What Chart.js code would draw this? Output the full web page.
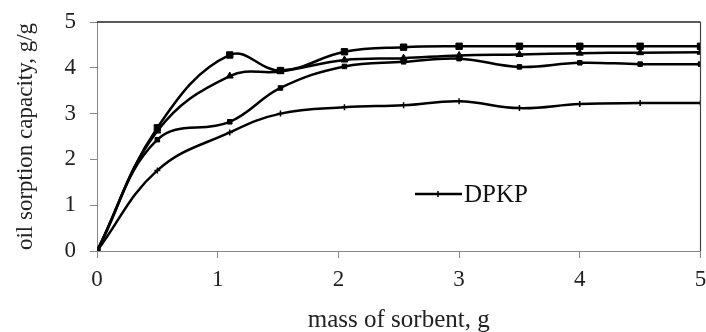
<!DOCTYPE html>
<html>
<head>
<meta charset="utf-8">
<script src="https://cdn.jsdelivr.net/npm/chart.js@4/dist/chart.umd.min.js"></script>
<style>
	html, body { margin: 0; padding: 0; background: #fff; }
	#wrap { width: 706px; height: 332px; }
</style>
</head>
<body>
<div id="wrap"><canvas id="myChart" width="706" height="332"></canvas></div>
<script>
// mass of sorbent, g
const massValues = [0, 0.5, 1.1, 1.52, 2.05, 2.54, 3, 3.5, 4, 4.5, 5];
// oil sorption capacity, g/g
const seriesTop = [0, 2.69, 4.28, 3.94, 4.35, 4.45, 4.47, 4.47, 4.47, 4.47, 4.47];
const seriesTriangle = [0, 2.62, 3.82, 3.92, 4.17, 4.21, 4.27, 4.29, 4.32, 4.33, 4.34];
const seriesSmallSquare = [0, 2.43, 2.82, 3.56, 4.03, 4.13, 4.2, 4.02, 4.11, 4.08, 4.08];
const seriesDPKP = [0, 1.76, 2.59, 3.0, 3.14, 3.18, 3.27, 3.12, 3.21, 3.23, 3.23];
const yTicks = [0, 1, 2, 3, 4, 5];
const xTicks = [0, 1, 2, 3, 4, 5];

const serif = "'Liberation Serif', 'Times New Roman', serif";

function toPoints(values) {
	return values.map((y, i) => ({ x: massValues[i], y }));
}

function series({ label, data, pointStyle, radius }) {
	return {
		label,
		data: toPoints(data),
		borderColor: "#000",
		backgroundColor: "#000",
		borderWidth: 2.5,
		tension: 0.4,
		pointStyle,
		pointRadius: radius,
		pointBorderWidth: pointStyle === "cross" ? 1.5 : 1,
		pointBackgroundColor: "#000",
		pointBorderColor: "#000"
	};
}

const datasets = [
	series({ label: "top", data: seriesTop, pointStyle: "rect", radius: 4.5 }),
	series({ label: "triangle", data: seriesTriangle, pointStyle: "triangle", radius: 4 }),
	series({ label: "small square", data: seriesSmallSquare, pointStyle: "rect", radius: 3.2 }),
	series({ label: "DPKP", data: seriesDPKP, pointStyle: "cross", radius: 3 })
];

// no extra room for the end tick labels, the layout padding fixes the plot box
function noEdgePadding(scale) {
	scale.paddingLeft = 0;
	scale.paddingRight = 0;
	scale.paddingTop = 0;
	scale.paddingBottom = 0;
}

// top and right frame lines, and the single DPKP legend entry inside the plot
const framePlugin = {
	id: "frame",
	afterDraw(chart) {
		const { ctx, chartArea: a } = chart;
		ctx.save();
		ctx.strokeStyle = "#222";
		ctx.lineWidth = 1.5;
		ctx.beginPath();
		ctx.moveTo(a.left, a.top);
		ctx.lineTo(a.right, a.top);
		ctx.stroke();
		ctx.strokeStyle = "#444";
		ctx.lineWidth = 1.2;
		ctx.beginPath();
		ctx.moveTo(a.right, a.top);
		ctx.lineTo(a.right, a.bottom);
		ctx.stroke();

		// legend
		const ds = chart.data.datasets[3];
		const lx = 415, ly = 194;
		ctx.strokeStyle = "#000";
		ctx.lineWidth = 2.5;
		ctx.beginPath();
		ctx.moveTo(lx, ly);
		ctx.lineTo(lx + 47, ly);
		ctx.stroke();
		ctx.lineWidth = 1.5;
		ctx.beginPath();
		ctx.moveTo(lx + 23, ly - 3);
		ctx.lineTo(lx + 23, ly + 3);
		ctx.stroke();
		ctx.fillStyle = "#111";
		ctx.font = "25px " + serif;
		ctx.textBaseline = "middle";
		ctx.textAlign = "left";
		ctx.fillText(ds.label, lx + 49, ly + 1);
		ctx.restore();
	}
};

const ctx = document.getElementById("myChart").getContext("2d");
new Chart(ctx, {
	type: "line",
	data: { datasets },
	plugins: [framePlugin],
	options: {
		responsive: false,
		animation: false,
		devicePixelRatio: 1,
		layout: { padding: { top: 22, right: 4, left: 0, bottom: 0 } },
		plugins: {
			legend: { display: false },
			tooltip: { enabled: false }
		},
		scales: {
			x: {
				type: "linear",
				min: 0,
				max: 5,
				afterBuildTicks: scale => { scale.ticks = xTicks.map(v => ({ value: v })); },
				afterFit: scale => { scale.height = 81; noEdgePadding(scale); },
				ticks: {
					color: "#222",
					font: { family: serif, size: 23 },
					padding: 8,
					maxRotation: 0
				},
				grid: { drawOnChartArea: false, drawTicks: true, tickLength: 7, color: "#888" },
				border: { color: "#888", width: 1 },
				title: {
					display: true,
					text: "mass of sorbent, g",
					color: "#222",
					font: { family: serif, size: 25 },
					padding: { top: 0, bottom: -3 }
				}
			},
			y: {
				min: 0,
				max: 5,
				afterBuildTicks: scale => { scale.ticks = yTicks.map(v => ({ value: v })); },
				afterFit: scale => { scale.width = 97; noEdgePadding(scale); },
				ticks: {
					color: "#222",
					font: { family: serif, size: 23 },
					padding: 14
				},
				grid: { drawOnChartArea: false, drawTicks: true, tickLength: 7, color: "#888" },
				border: { color: "#888", width: 1 },
				title: {
					display: true,
					text: "oil sorption capacity, g/g",
					color: "#222",
					font: { family: serif, size: 23 },
					padding: { top: 12, bottom: 0 }
				}
			}
		}
	}
});
</script>
</body>
</html>
